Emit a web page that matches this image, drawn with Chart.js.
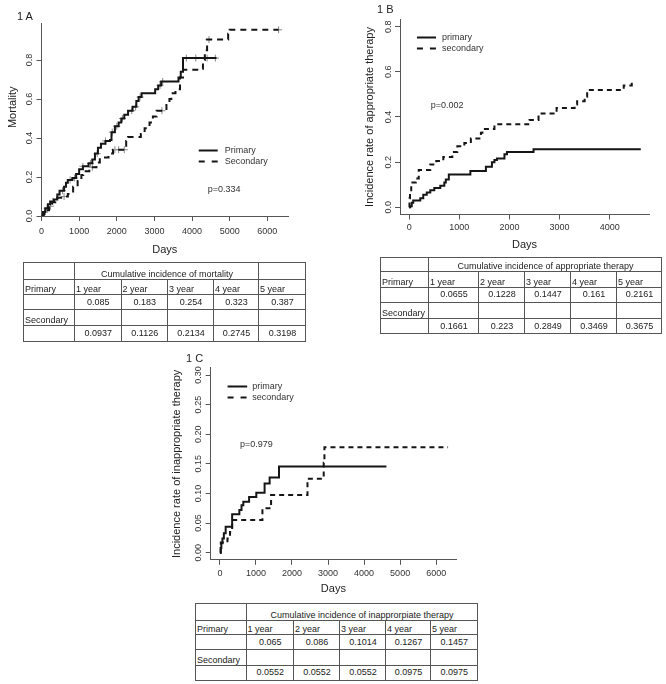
<!DOCTYPE html>
<html>
<head>
<meta charset="utf-8">
<script src="https://cdn.jsdelivr.net/npm/chart.js@4.4.1/dist/chart.umd.min.js"></script>
<style>
  body { margin: 0; background: #fff; }
  #page { position: relative; width: 666px; height: 684px; overflow: hidden;
          font-family: "Liberation Sans", Arial, sans-serif; color: #222; }
  canvas { position: absolute; }
  .tag { position: absolute; font-size: 11px; line-height: 11px; color: #222; }
  table.ci { position: absolute; border-collapse: collapse; table-layout: fixed;
             font-size: 9px; color: #222; }
  table.ci td { border: 1px solid #555; padding: 0 0 0 1px; line-height: 9px;
                vertical-align: bottom; white-space: nowrap; overflow: visible; }
  table.ci td.val { text-align: center; vertical-align: middle; }
  table.ci td.hd { text-align: center; }
</style>
</head>
<body>
<div id="page">
  <canvas id="chartA" width="300" height="262" style="left:0px;top:0px"></canvas>
  <canvas id="chartB" width="336" height="262" style="left:330px;top:0px"></canvas>
  <canvas id="chartC" width="310" height="255" style="left:160px;top:345px"></canvas>
  <div class="tag" style="left:17px;top:11px">1 A</div>
  <div class="tag" style="left:377px;top:4px">1 B</div>
  <div class="tag" style="left:186px;top:353px">1 C</div>
</div>
<script>
// Panel A: mortality (days, cumulative risk)
const aPrimDays = [0, 40, 100, 170, 230, 330, 420, 480, 600, 650, 700, 820, 920, 1000, 1100, 1250, 1350, 1420, 1500, 1580, 1700, 1820, 1860, 1950, 2050, 2120, 2200, 2300, 2420, 2520, 2580, 2660, 3020, 3100, 3180, 3640, 3700, 3760, 4650];
const aPrimRisk = [0, 0.02, 0.04, 0.06, 0.075, 0.085, 0.11, 0.13, 0.15, 0.17, 0.185, 0.195, 0.215, 0.24, 0.255, 0.27, 0.29, 0.32, 0.35, 0.37, 0.385, 0.39, 0.43, 0.46, 0.48, 0.5, 0.52, 0.54, 0.56, 0.59, 0.61, 0.63, 0.65, 0.67, 0.69, 0.71, 0.74, 0.81, 0.81];
const aSecDays = [0, 60, 130, 200, 280, 365, 560, 700, 840, 960, 1060, 1110, 1270, 1460, 1550, 1780, 1900, 2250, 2300, 2640, 2740, 2870, 2960, 3060, 3320, 3400, 3450, 3560, 3680, 3760, 4200, 4290, 4340, 4400, 4960, 5000, 6300];
const aSecRisk = [0, 0.01, 0.03, 0.05, 0.07, 0.094, 0.1, 0.113, 0.15, 0.18, 0.21, 0.23, 0.25, 0.275, 0.3, 0.32, 0.34, 0.385, 0.405, 0.42, 0.45, 0.48, 0.51, 0.54, 0.57, 0.6, 0.63, 0.65, 0.71, 0.75, 0.755, 0.8, 0.85, 0.905, 0.935, 0.955, 0.955];
// censored observations (+ marks)
const aPrimCensorDays = [80, 150, 300, 560, 760, 880, 1100, 1300, 1480, 1700, 1880, 2000, 2150, 2400, 2500, 2620, 3150, 3220, 3850, 4100, 4400, 4620];
const aPrimCensorRisk = [0.02, 0.04, 0.075, 0.13, 0.185, 0.195, 0.255, 0.27, 0.32, 0.385, 0.43, 0.46, 0.5, 0.54, 0.56, 0.61, 0.67, 0.69, 0.81, 0.81, 0.81, 0.81];
const aSecCensorDays = [240, 600, 1350, 1950, 2050, 2200, 3200, 4450, 6300];
const aSecCensorRisk = [0.05, 0.1, 0.25, 0.34, 0.34, 0.34, 0.54, 0.905, 0.955];

// Panel B: appropriate therapy
const bPrimDays = [0, 20, 50, 80, 220, 280, 350, 420, 500, 620, 700, 730, 790, 1220, 1530, 1650, 1700, 1750, 1900, 1950, 2480, 4620];
const bPrimRisk = [0, 0.005, 0.02, 0.03, 0.04, 0.055, 0.065, 0.075, 0.085, 0.095, 0.11, 0.123, 0.145, 0.161, 0.18, 0.2, 0.21, 0.216, 0.235, 0.245, 0.257, 0.257];
const bSecDays = [0, 5, 15, 40, 130, 190, 420, 540, 680, 860, 960, 1100, 1230, 1430, 1460, 1700, 2400, 2580, 2940, 3300, 3350, 3500, 3550, 4280, 4440, 4470];
const bSecRisk = [0, 0.04, 0.075, 0.11, 0.128, 0.165, 0.19, 0.205, 0.223, 0.245, 0.27, 0.285, 0.305, 0.33, 0.347, 0.3675, 0.387, 0.415, 0.44, 0.455, 0.47, 0.49, 0.52, 0.54, 0.557, 0.557];

// Panel C: inappropriate therapy
const cPrimDays = [0, 20, 40, 70, 110, 160, 340, 540, 600, 650, 810, 1010, 1240, 1380, 1640, 4620];
const cPrimRisk = [0, 0.008, 0.016, 0.024, 0.033, 0.044, 0.065, 0.072, 0.08, 0.086, 0.094, 0.101, 0.117, 0.127, 0.1457, 0.1457];
const cSecDays = [0, 25, 210, 280, 340, 1180, 1420, 2430, 2880, 2900, 6330];
const cSecRisk = [0, 0.017, 0.024, 0.035, 0.0552, 0.075, 0.0975, 0.125, 0.152, 0.178, 0.178];

// Axis ticks
const dayTicksLong = [0, 1000, 2000, 3000, 4000, 5000, 6000];
const dayTicksShort = [0, 1000, 2000, 3000, 4000];
const riskTicks = [0, 0.2, 0.4, 0.6, 0.8];
const riskTicksFine = [0, 0.05, 0.1, 0.15, 0.2, 0.25, 0.3];

// Tables
const yearCols = ['1 year', '2 year', '3 year', '4 year', '5 year'];
const mortPrim = ['0.085', '0.183', '0.254', '0.323', '0.387'];
const mortSec = ['0.0937', '0.1126', '0.2134', '0.2745', '0.3198'];
const approPrim = ['0.0655', '0.1228', '0.1447', '0.161', '0.2161'];
const approSec = ['0.1661', '0.223', '0.2849', '0.3469', '0.3675'];
const inapPrim = ['0.065', '0.086', '0.1014', '0.1267', '0.1457'];
const inapSec = ['0.0552', '0.0552', '0.0552', '0.0975', '0.0975'];

const FONT = '"Liberation Sans", Arial, sans-serif';
Chart.defaults.font.family = FONT;

function toPts(xs, ys) {
    return xs.map((x, i) => ({ x: x, y: ys[i] }));
}

// legend + p value drawn inside the plot, placed in data units
const insetNotes = {
    id: 'insetNotes',
    afterDatasetsDraw(chart, args, opts) {
        const ctx = chart.ctx;
        const x = chart.scales.x, y = chart.scales.y;
        ctx.save();
        ctx.font = '9px ' + FONT;
        ctx.fillStyle = '#333';
        ctx.textBaseline = 'middle';
        ctx.textAlign = 'left';
        const x0 = x.getPixelForValue(opts.legendX[0]);
        const x1 = x.getPixelForValue(opts.legendX[1]);
        opts.legendY.forEach((v, i) => {
            const ds = chart.data.datasets[i];
            const py = Math.round(y.getPixelForValue(v)) + 0.5;
            ctx.strokeStyle = ds.borderColor;
            ctx.lineWidth = ds.borderWidth;
            // two dashes for the dashed key, as in the original legend
            ctx.setLineDash(ds.borderDash ? opts.keyDash : []);
            ctx.beginPath();
            ctx.moveTo(x0, py);
            ctx.lineTo(x1, py);
            ctx.stroke();
            ctx.fillText(ds.label, x1 + opts.gap, py);
        });
        ctx.fillText(opts.pText, x.getPixelForValue(opts.pAt[0]), y.getPixelForValue(opts.pAt[1]));
        ctx.restore();
    }
};

function kmChart(id, s) {
    const datasets = [
        { label: s.names[0], data: toPts(s.prim[0], s.prim[1]), borderColor: '#151515', borderWidth: 2,
          stepped: 'before', pointRadius: 0, tension: 0, fill: false },
        { label: s.names[1], data: toPts(s.sec[0], s.sec[1]), borderColor: '#151515', borderWidth: 2,
          borderDash: s.dash, stepped: 'before', pointRadius: 0, tension: 0, fill: false }
    ];
    (s.censor || []).forEach(c => {
        datasets.push({ label: 'censored', data: toPts(c[0], c[1]), showLine: false,
            pointStyle: 'cross', pointRadius: 3.5, pointBorderColor: '#8a8a8a', pointBorderWidth: 1 });
    });
    const axisCommon = {
        type: 'linear',
        border: { display: true, color: '#555', width: 1 },
        grid: { display: true, drawOnChartArea: false, drawTicks: true, tickLength: 5, color: '#555' }
    };
    return new Chart(document.getElementById(id), {
        type: 'line',
        data: { datasets: datasets },
        options: {
            responsive: false,
            animation: false,
            events: [],
            layout: { padding: s.pad },
            plugins: { legend: { display: false }, tooltip: { enabled: false }, insetNotes: s.notes },
            scales: {
                x: Object.assign({}, axisCommon, {
                    min: s.xRange[0], max: s.xRange[1],
                    afterBuildTicks: sc => { sc.ticks = s.xTicks.map(v => ({ value: v })); },
                    afterFit: sc => { sc.height = s.xH; },
                    ticks: { autoSkip: false, maxRotation: 0,
                             padding: s.xTickPad, color: '#333', font: { size: 9 },
                             callback: v => String(v) },
                    title: { display: true, text: 'Days', color: '#222', font: { size: 11 },
                             padding: { top: 0, bottom: s.xTitlePad } }
                }),
                y: Object.assign({}, axisCommon, {
                    min: s.yRange[0], max: s.yRange[1],
                    afterBuildTicks: sc => { sc.ticks = s.yTicks.map(v => ({ value: v })); },
                    afterFit: sc => { sc.width = s.yW; },
                    ticks: { autoSkip: false,
                             minRotation: 90, maxRotation: 90, crossAlign: 'center',
                             padding: s.yTickPad, color: '#333', font: { size: 9 },
                             callback: v => v.toFixed(s.yDec) },
                    title: { display: true, text: s.yTitle, color: '#222', font: { size: 11 },
                             padding: { top: s.yTitlePad, bottom: 0 } }
                })
            }
        },
        plugins: [insetNotes]
    });
}

kmChart('chartA', {
    names: ['Primary', 'Secondary'],
    prim: [aPrimDays, aPrimRisk], sec: [aSecDays, aSecRisk],
    censor: [[aPrimCensorDays, aPrimCensorRisk], [aSecCensorDays, aSecCensorRisk]],
    dash: [6, 5],
    xRange: [0, 6550], yRange: [0, 0.99], xTicks: dayTicksLong, yTicks: riskTicks, yDec: 1,
    pad: { top: 23, right: 12, bottom: 2, left: 0 },
    xH: 44, yW: 41.5, xTickPad: 5.6, yTickPad: 0.3, xTitlePad: 3.4, yTitlePad: 6.1,
    yTitle: '        Mortality',
    notes: { legendX: [4178, 4682], legendY: [0.341, 0.28], gap: 7, keyDash: [6, 7],
             pText: 'p=0.334', pAt: [4416, 0.137] }
});

kmChart('chartB', {
    names: ['primary', 'secondary'],
    prim: [bPrimDays, bPrimRisk], sec: [bSecDays, bSecRisk],
    dash: [5, 4],
    xRange: [-184, 4784], yRange: [-0.032, 0.832], xTicks: dayTicksShort, yTicks: riskTicks, yDec: 1,
    pad: { top: 19.5, right: 17, bottom: 3.5, left: 0 },
    xH: 44, yW: 70, xTickPad: 2.8, yTickPad: 0, xTitlePad: 6.9, yTitlePad: 33.4,
    yTitle: 'Incidence rate of appropriate therapy',
    notes: { legendX: [154, 534], legendY: [0.756, 0.704], gap: 6, keyDash: [6, 7],
             pText: 'p=0.002', pAt: [428, 0.449] }
});

kmChart('chartC', {
    names: ['primary', 'secondary'],
    prim: [cPrimDays, cPrimRisk], sec: [cSecDays, cSecRisk],
    dash: [5, 4],
    xRange: [-255, 6550], yRange: [-0.012, 0.312], xTicks: dayTicksLong, yTicks: riskTicksFine, yDec: 2,
    pad: { top: 22.9, right: 14, bottom: 2.2, left: 0 },
    xH: 38, yW: 50.7, xTickPad: 3.1, yTickPad: -1.3, xTitlePad: 1.9, yTitlePad: 10.1,
    yTitle: 'Incidence rate of inappropriate therapy',
    notes: { legendX: [213, 757], legendY: [0.282, 0.263], gap: 5, keyDash: [6, 7],
             pText: 'p=0.979', pAt: [555, 0.182] }
});

// Cumulative incidence tables
function buildTable(g) {
    const page = document.getElementById('page');
    const t = document.createElement('table');
    t.className = 'ci';
    t.style.left = g.left + 'px';
    t.style.top = g.top + 'px';
    const cg = document.createElement('colgroup');
    let total = 0;
    g.cols.forEach(w => {
        const c = document.createElement('col');
        c.style.width = w + 'px';
        total += w;
        cg.appendChild(c);
    });
    t.style.width = total + 'px';
    t.appendChild(cg);

    function row(h, cells) {
        const tr = document.createElement('tr');
        cells.forEach(c => {
            const td = document.createElement('td');
            td.textContent = c.text || '';
            if (c.cls) td.className = c.cls;
            if (c.span) td.colSpan = c.span;
            td.style.height = (h - 1) + 'px';
            tr.appendChild(td);
        });
        t.appendChild(tr);
    }
    const head = [{}, { text: g.title, cls: 'hd', span: g.span }];
    if (g.span < 5) head.push({});
    row(g.rows[0], head);
    row(g.rows[1], [{ text: 'Primary' }].concat(yearCols.map(y => ({ text: y }))));
    row(g.rows[2], [{}].concat(g.prim.map(v => ({ text: v, cls: 'val' }))));
    row(g.rows[3], [{ text: 'Secondary' }].concat(yearCols.map(() => ({}))));
    row(g.rows[4], [{}].concat(g.sec.map(v => ({ text: v, cls: 'val' }))));
    page.appendChild(t);
}

buildTable({ left: 23, top: 262, cols: [51, 46.5, 46.5, 46, 45, 47],
             rows: [16.5, 15.5, 15, 16, 16], span: 4,
             title: 'Cumulative incidence of mortality', prim: mortPrim, sec: mortSec });
buildTable({ left: 380, top: 257, cols: [48, 50, 46, 46, 46, 45],
             rows: [13.5, 16, 15, 16.5, 15], span: 5,
             title: 'Cumulative incidence of appropriate therapy', prim: approPrim, sec: approSec });
buildTable({ left: 195, top: 603, cols: [50.5, 47.5, 46, 46, 45, 46.5],
             rows: [16.5, 14.5, 15, 16, 14.5], span: 5,
             title: 'Cumulative incidence of inapprorpiate therapy', prim: inapPrim, sec: inapSec });
</script>
</body>
</html>
